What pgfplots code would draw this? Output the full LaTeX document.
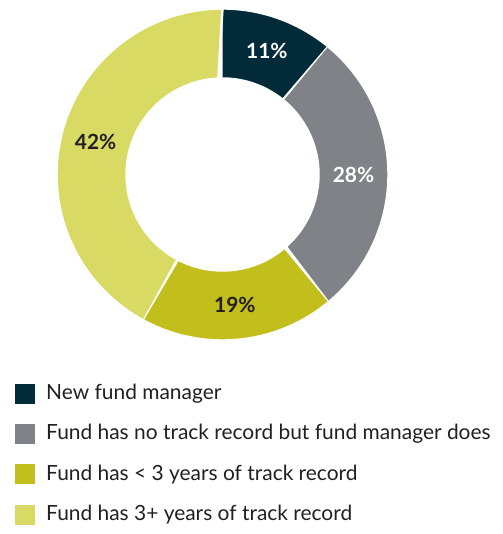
\documentclass[border=0pt]{standalone}
\usepackage{pgfplots}
\pgfplotsset{compat=1.18}
\usepackage{fontspec}
\setmainfont{Lato}
\definecolor{cA}{RGB}{2,43,58}
\definecolor{cB}{RGB}{127,130,134}
\definecolor{cC}{RGB}{194,190,28}
\definecolor{cD}{RGB}{216,218,99}
\definecolor{txt}{RGB}{35,31,32}
\tikzset{pctlab/.style={font=\fontsize{21}{24}\selectfont\bfseries},
  legtxt/.style={anchor=west, inner sep=0pt, text=txt, font=\fontsize{21}{25}\selectfont}}
% slice: {cumulative start %}{share %}{colour}
\newcommand{\slice}[3]{%
  \pgfmathsetmacro{\A}{90-3.6*#1}%
  \pgfmathsetmacro{\B}{90-3.6*(#1+#2)}%
  \addplot[fill=#3, draw=white, line width=2.4bp, domain=0:2, samples=121, variable=\t]
   ({222.5+(\t<1.001 ? 166 : 96)*cos(\t<1.001 ? \A+(\B-\A)*\t : \B-(\B-\A)*(\t-1))},
    {359.5+(\t<1.001 ? 166 : 96)*sin(\t<1.001 ? \A+(\B-\A)*\t : \B-(\B-\A)*(\t-1))});
}
\newcommand{\pct}[4]{%
  \pgfmathsetmacro{\M}{90-3.6*(#1+#2/2)}%
  \pgfmathsetmacro{\X}{222.5+131*cos(\M)}%
  \pgfmathsetmacro{\Y}{359.5+131*sin(\M)}%
  \edef\doit{\noexpand\node[pctlab, text=#3] at (axis cs:\X,\Y) {\unexpanded{#4}};}%
  \doit
}
\begin{document}
\begin{tikzpicture}
\begin{axis}[
  x=1bp, y=1bp, scale only axis,
  xmin=0, xmax=503, ymin=0, ymax=534,
  hide axis, clip=false,
]
\addplot[draw=none, forget plot] coordinates {(0,0) (503,534)};
\slice{0}{11}{cA}
\slice{11}{28}{cB}
\slice{39}{19}{cC}
\slice{58}{42}{cD}
\pct{0}{11}{white}{11\%}
\pct{11}{28}{white}{28\%}
\pct{39}{19}{txt}{19\%}
\pct{58}{42}{txt}{42\%}
% legend squares
\addplot[fill=cA, draw=none] coordinates {(15,130) (35,130) (35,150) (15,150)} -- cycle;
\addplot[fill=cB, draw=none] coordinates {(15,90) (35,90) (35,110) (15,110)} -- cycle;
\addplot[fill=cC, draw=none] coordinates {(15,49.5) (35,49.5) (35,69.5) (15,69.5)} -- cycle;
\addplot[fill=cD, draw=none] coordinates {(15,9) (35,9) (35,29) (15,29)} -- cycle;
\node[legtxt] at (axis cs:46,140) {New fund manager};
\node[legtxt] at (axis cs:46,100) {Fund has no track record but fund manager does};
\node[legtxt] at (axis cs:46,59.5) {Fund has < 3 years of track record};
\node[legtxt] at (axis cs:46,19) {Fund has 3+ years of track record};
\end{axis}
\end{tikzpicture}
\end{document}
